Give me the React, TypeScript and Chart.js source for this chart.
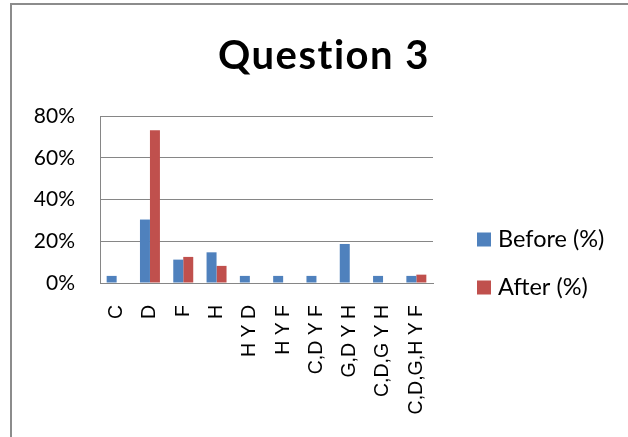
import { useEffect, useRef } from "react";
import { Chart, registerables } from "chart.js";

Chart.register(...registerables);

// Answer categories along the x axis
const categories = [
  "C",
  "D",
  "F",
  "H",
  "H Y D",
  "H Y F",
  "C,D Y F",
  "G,D Y H",
  "C,D,G Y H",
  "C,D,G,H Y F",
];

// Share of answers per category, in percent
const beforePct = [3.4, 30.4, 11.2, 14.7, 3.4, 3.4, 3.4, 18.7, 3.4, 3.4];
const afterPct = [0, 73.2, 12.5, 8.2, 0, 0, 0, 0, 0, 4.0];

const seriesNames = ["Before (%)", "After (%)"];
const seriesColors = ["#4F81BD", "#C0504D"];

const yTickMin = 0;
const yTickMax = 80;
const yTickStep = 20;

const chartTitle = "Question 3";

const CANVAS_W = 624;
const CANVAS_H = 440;

// Title centred over the whole frame, not just the plot
const frameTitle = {
  id: "frameTitle",
  afterDraw(chart: any) {
    const { ctx } = chart;
    ctx.save();
    ctx.font = "bold 40px Lato";
    (ctx as any).letterSpacing = "1.5px";
    ctx.fillStyle = "#000";
    ctx.textAlign = "center";
    ctx.textBaseline = "middle";
    ctx.fillText(chartTitle, chart.width / 2, 51);
    ctx.restore();
  },
};

// Legend drawn to the right of the plot, lower half
const sideLegend = {
  id: "sideLegend",
  afterDraw(chart: any) {
    const { ctx, chartArea } = chart;
    const x = chartArea.right + 44;
    let y = chartArea.bottom - 43.5;
    ctx.save();
    ctx.font = "23.5px Lato";
    ctx.textBaseline = "middle";
    ctx.textAlign = "left";
    chart.data.datasets.forEach((ds: any) => {
      ctx.fillStyle = ds.backgroundColor;
      ctx.fillRect(x, y - 7, 14, 14);
      ctx.fillStyle = "#000";
      ctx.fillText(ds.label, x + 21, y);
      y += 48;
    });
    ctx.restore();
  },
};

export default function App() {
  const canvasRef = useRef<HTMLCanvasElement | null>(null);

  useEffect(() => {
    const canvas = canvasRef.current;
    if (!canvas) return;
    const chart = new Chart(canvas, {
      type: "bar",
      data: {
        labels: categories,
        datasets: [
          {
            label: seriesNames[0],
            data: beforePct,
            backgroundColor: seriesColors[0],
            barPercentage: 1,
            categoryPercentage: 0.6,
          },
          {
            label: seriesNames[1],
            data: afterPct,
            backgroundColor: seriesColors[1],
            barPercentage: 1,
            categoryPercentage: 0.6,
          },
        ],
      },
      options: {
        responsive: false,
        animation: false,
        devicePixelRatio: 1,
        layout: { padding: { left: 0, right: 203, top: 111, bottom: 0 } },
        plugins: {
          legend: { display: false },
          tooltip: { enabled: false },
          title: { display: false },
        },
        scales: {
          x: {
            grid: { display: false, drawTicks: false },
            border: { display: true, color: "#868686", width: 1 },
            ticks: {
              autoSkip: false,
              maxRotation: 90,
              minRotation: 90,
              padding: 22,
              color: "#000",
              font: { family: "Liberation Sans", size: 19.5 },
            },
            afterFit: (s: any) => {
              s.height = CANVAS_H - 278;
            },
          },
          y: {
            min: yTickMin,
            max: yTickMax,
            grid: { color: "#868686", drawTicks: false },
            border: { display: true, color: "#868686", width: 1 },
            ticks: {
              stepSize: yTickStep,
              padding: 25,
              color: "#000",
              font: { family: "Lato", size: 21 },
              callback: (v: any) => v + "%",
            },
            afterFit: (s: any) => {
              s.width = 88;
            },
          },
        },
      },
      plugins: [frameTitle, sideLegend],
    });
    return () => chart.destroy();
  }, []);

  return (
    <div
      style={{
        position: "fixed",
        left: 0,
        top: 0,
        width: 628,
        height: 437,
        overflow: "hidden",
        background: "#fff",
      }}
    >
      <div
        style={{
          position: "absolute",
          left: 10,
          top: 3,
          width: 640,
          height: 450,
          borderLeft: "2px solid #8c8c8c",
          borderTop: "2px solid #8c8c8c",
          background: "#fff",
        }}
      >
        <canvas
          ref={canvasRef}
          width={CANVAS_W}
          height={CANVAS_H}
          style={{ display: "block", width: CANVAS_W, height: CANVAS_H }}
        />
      </div>
    </div>
  );
}
